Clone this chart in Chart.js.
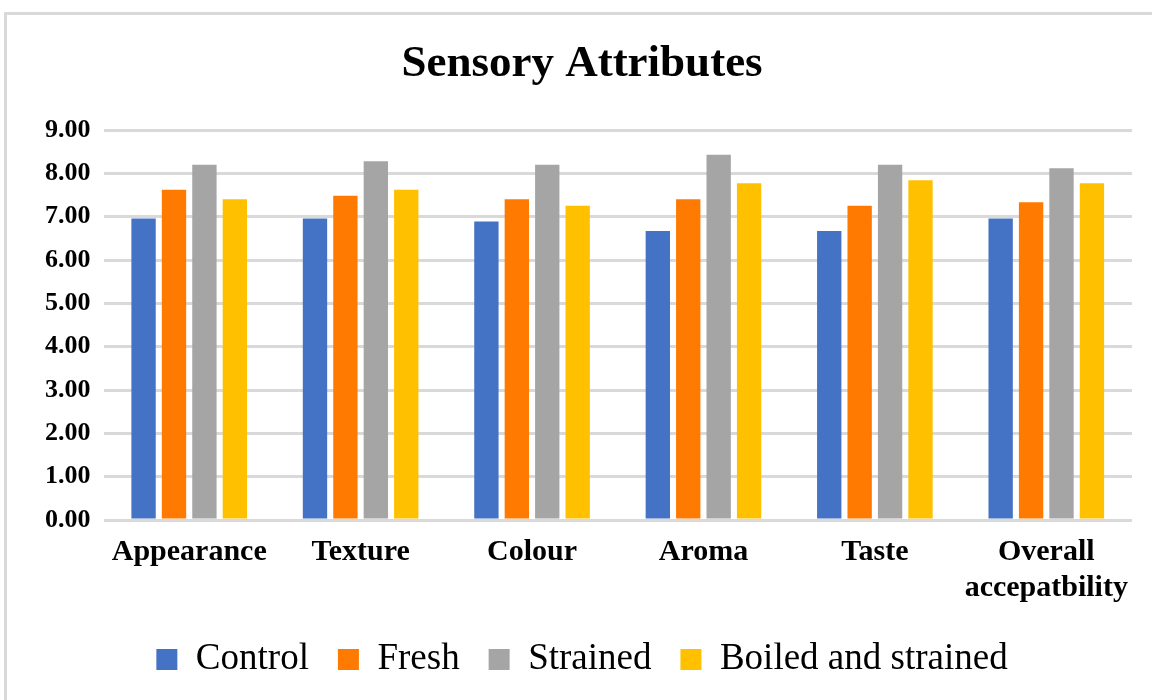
<!DOCTYPE html>
<html>
<head>
<meta charset="utf-8">
<script src="https://cdn.jsdelivr.net/npm/chart.js@4/dist/chart.umd.min.js"></script>
<style>
  body { margin: 0; background: #fff; }
  #frame { position: absolute; left: 4px; top: 12px; width: 1200px; height: 760px; border: 3px solid #d9d9d9; }
  #wrap { position: absolute; left: 0; top: 0; width: 1152px; height: 700px; }
</style>
</head>
<body>
<div id="frame"></div>
<div id="wrap"><canvas id="chart" width="1152" height="700"></canvas></div>
<script>
var categories = ['Appearance', 'Texture', 'Colour', 'Aroma', 'Taste', ['Overall', 'accepatbility']];
var control = [6.96, 6.96, 6.89, 6.67, 6.67, 6.96];
var fresh = [7.62, 7.48, 7.40, 7.40, 7.25, 7.33];
var strained = [8.20, 8.28, 8.20, 8.43, 8.20, 8.12];
var boiledStrained = [7.40, 7.62, 7.25, 7.77, 7.84, 7.77];
var yTicks = [0, 1, 2, 3, 4, 5, 6, 7, 8, 9];

var serif = "'Liberation Serif', 'Times New Roman', serif";

function bars(label, data, color) {
    return {
        label: label,
        data: data,
        backgroundColor: color,
        borderWidth: 0,
        barPercentage: 0.8,
        categoryPercentage: 0.71
    };
}

var ctx = document.getElementById('chart');
var chart = new Chart(ctx, {
    type: 'bar',
    data: {
        labels: categories,
        datasets: [
            bars('Control', control, '#4472c4'),
            bars('Fresh', fresh, '#ff7a00'),
            bars('Strained', strained, '#a5a5a5'),
            bars('Boiled and strained', boiledStrained, '#ffc000')
        ]
    },
    options: {
        responsive: false,
        animation: false,
        layout: { padding: { left: 32, right: 20, top: 37, bottom: 12 } },
        plugins: {
            title: {
                display: true,
                text: 'Sensory Attributes',
                color: '#000',
                font: { family: serif, size: 45, weight: 'bold' },
                padding: { top: 0, bottom: 39 }
            },
            legend: {
                position: 'bottom',
                labels: {
                    color: '#000',
                    font: { family: serif, size: 37 },
                    boxWidth: 21,
                    boxHeight: 21,
                    padding: 29
                }
            },
            tooltip: { enabled: false }
        },
        scales: {
            x: {
                grid: { display: false },
                border: { display: false },
                ticks: {
                    color: '#000',
                    font: { family: serif, size: 30, weight: 'bold', lineHeight: 1.2 },
                    maxRotation: 0,
                    autoSkip: false,
                    padding: 6
                }
            },
            y: {
                min: 0,
                max: 9,
                afterBuildTicks: function(axis) {
                    axis.ticks = yTicks.map(function(v) { return { value: v }; });
                },
                grid: { color: '#d9d9d9', lineWidth: 3, drawTicks: false },
                border: { display: false },
                ticks: {
                    color: '#000',
                    font: { family: serif, size: 26, weight: 'bold' },
                    padding: 13,
                    callback: function(v) { return Number(v).toFixed(2); }
                }
            }
        }
    }
});
</script>
</body>
</html>
